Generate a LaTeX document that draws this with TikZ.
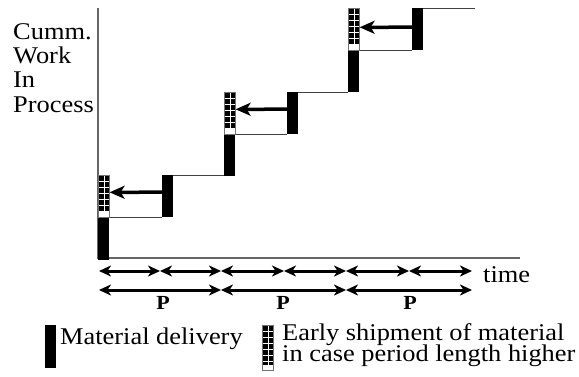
\documentclass[tikz,border=0pt]{standalone}
\usepackage{fontspec}
\setmainfont[FakeStretch=1.1]{Liberation Serif}
\usetikzlibrary{arrows.meta}
\begin{document}
\begin{tikzpicture}[x=1pt,y=-1pt,
  bar/.style={fill=black, inner sep=0pt, minimum width=11pt, minimum height=42pt, anchor=north west},
  early/.style={fill=black, draw=black!55, line width=0.6pt, inner sep=0pt, minimum width=11pt, minimum height=42pt, anchor=north west,
    path picture={
      \fill[white] (path picture bounding box.south west) rectangle ([yshift=5pt]path picture bounding box.south east);
      \draw[white, line width=0.6pt] (path picture bounding box.north) -- (path picture bounding box.south);
      \foreach \k in {1,...,6}{\draw[white, line width=0.6pt] ([yshift=-\k*6pt]path picture bounding box.north west) -- ([yshift=-\k*6pt]path picture bounding box.north east);}
    }},
  stepline/.style={draw=black!75, line width=1pt},
  axis/.style={draw=black!60, line width=1.3pt},
  pull/.style={line width=3.5pt, -{Stealth[length=15pt,width=13pt,inset=4pt]}},
  span/.style={line width=3pt, {Stealth[length=12pt,width=11pt,inset=3.5pt]}-{Stealth[length=12pt,width=11pt,inset=3.5pt]}},
  lbl/.style={anchor=base west, inner sep=0pt, font=\fontsize{24}{24}\selectfont},
  plbl/.style={anchor=base, inner sep=0pt, font=\fontsize{20}{20}\selectfont\bfseries}]
\useasboundingbox (0,0) rectangle (579,376);

% axes
\coordinate (ytop) at (98,8);
\coordinate (orig) at (98,258);
\coordinate (xend) at (520,258);
\draw[axis] (ytop) -- (orig) -- (xend);

% axis label
\node[lbl] (yl1) at (13,39) {Cumm.};
\node[lbl] (yl2) at (13,63) {Work};
\node[lbl] (yl3) at (13,87) {In};
\node[lbl] (yl4) at (13,112) {Process};

% steps
\node[bar] (k1) at (98,218) {};
\node[early] (h1) at (98,175) {};
\node[bar] (r1) at (162,175) {};
\node[bar] (k2) at (224,134) {};
\node[early] (h2) at (224,92) {};
\node[bar] (r2) at (287,92) {};
\node[bar] (k3) at (348,50) {};
\node[early] (h3) at (348,8) {};
\node[bar] (r3) at (412,8) {};
\coordinate (topend) at (475,8);

\draw[stepline] (h1.south east) -- (h1.south east -| r1.west);
\draw[stepline] (r1.north east) -- (r1.north east -| k2.west);
\draw[stepline] (h2.south east) -- (h2.south east -| r2.west);
\draw[stepline] (r2.north east) -- (r2.north east -| k3.west);
\draw[stepline] (h3.south east) -- (h3.south east -| r3.west);
\draw[stepline] (r3.north east) -- (topend);

\draw[pull] ([yshift=4pt]r1.west) -- ([yshift=4pt]h1.east);
\draw[pull] ([yshift=4pt]r2.west) -- ([yshift=4pt]h2.east);
\draw[pull] ([yshift=2pt]r3.west) -- ([yshift=2pt]h3.east);

% time arrows
\foreach \i/\x in {0/99,1/160,2/221,3/284,4/346,5/409,6/472} \coordinate (t\i) at (\x,271);
\foreach \a/\b in {0/1,1/2,2/3,3/4,4/5,5/6} \draw[span] (t\a) -- (t\b);
\foreach \i/\x in {0/99,1/221,2/346,3/472} \coordinate (q\i) at (\x,290);
\foreach \a/\b in {0/1,1/2,2/3} \draw[span] (q\a) -- (q\b);
\node[lbl] (time) at (483,282) {time};
\node[plbl] (p1) at (163,309) {P};
\node[plbl] (p2) at (283,309) {P};
\node[plbl] (p3) at (410,309) {P};

% legend
\node[bar, minimum height=43pt] (lk) at (45,325) {};
\node[lbl] (lkt) at (60,344) {Material delivery};
\node[early, minimum height=45pt] (lh) at (262,325) {};
\node[lbl] (lht1) at (282,340) {Early shipment of material};
\node[lbl] (lht2) at (282,361) {in case period length higher};
\end{tikzpicture}
\end{document}
